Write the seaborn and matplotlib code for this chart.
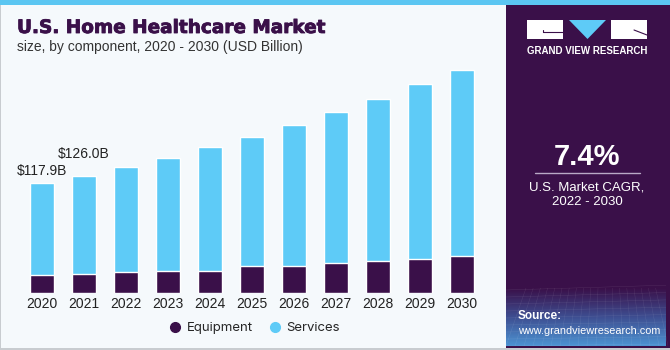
import numpy as np
import pandas as pd
import matplotlib.pyplot as plt
import seaborn as sns
from matplotlib.patches import Rectangle, Polygon
from matplotlib.lines import Line2D
from matplotlib.colors import LinearSegmentedColormap
import matplotlib.patheffects as pe

years = ['2020', '2021', '2022', '2023', '2024', '2025', '2026', '2027', '2028', '2029', '2030']
total = [117.9, 126.0, 135.5, 145.2, 156.7, 167.4, 180.3, 194.2, 208.2, 224.9, 239.6]
equipment = [19.6, 20.4, 22.5, 23.9, 23.6, 29.3, 29.3, 32.8, 34.3, 36.5, 40.3]
bar_labels = {'2020': '$117.9B', '2021': '$126.0B'}
label_offsets = {'2020': 4, '2021': 11}

df = pd.DataFrame({'year': years, 'total': total, 'equipment': equipment})
df['services'] = df['total'] - df['equipment']

purple = '#3A1049'
blue = '#5ECBF7'
bg = '#F5F9FC'

sns.set_style('white')
plt.rcParams['font.family'] = ['Liberation Sans', 'DejaVu Sans']

fig = plt.figure(figsize=(6.7, 3.5), dpi=100)
fig.patch.set_facecolor(bg)

# pixel overlay for frame, panel and logo
ov = fig.add_axes([0, 0, 1, 1], zorder=-1)
ov.add_patch(Rectangle((0, 0), 670, 4.5, color='#5BC6F2', lw=0))
ov.add_patch(Rectangle((0, 4.5), 1.2, 346, color='#C8CCD0', lw=0))
ov.add_patch(Rectangle((0, 347.5), 670, 2.5, color='#C8CCD0', lw=0))
ov.add_patch(Rectangle((506, 4.5), 164, 343, color=purple, lw=0))

# source gradient
grad = np.linspace(0, 1, 100).reshape(-1, 1)
cm = LinearSegmentedColormap.from_list('src', [purple, '#3E4E91', '#4C93D2'])
ov.imshow(grad, extent=(506, 666, 346, 288), cmap=cm, aspect='auto', zorder=1)
for k in range(0, 170, 9):
    ov.plot([506 + k, 506 + k * 0.8 + 20], [346, 288], color='white', lw=0.3, alpha=0.12, zorder=2)
for k in range(0, 60, 7):
    ov.plot([506, 666], [346 - k, 344 - k * 1.05], color='white', lw=0.3, alpha=0.12, zorder=2)
ov.set_xlim(0, 670)
ov.set_ylim(350, 0)
ov.axis('off')

# logo
ov.add_patch(Rectangle((527, 20), 36, 19, color='white', lw=0, zorder=3))
ov.plot([543, 563], [32, 32], color=purple, lw=0.8, zorder=4)
ov.plot([543, 543], [30, 32], color=purple, lw=0.8, zorder=4)
ov.add_patch(Polygon([(569, 20), (606, 20), (587.5, 39)], color=blue, lw=0, zorder=3))
ov.add_patch(Rectangle((611, 20), 36, 19, color='white', lw=0, zorder=3))
ov.plot([634, 647], [30, 35], color=purple, lw=0.8, zorder=4)
ov.text(587, 51, 'GRAND VIEW RESEARCH', color='white', fontsize=7, fontweight='bold',
        ha='center', va='center', zorder=5)

ov.text(587, 157, '7.4%', color='white', fontsize=21, fontweight='bold', ha='center', va='center')
ov.plot([535, 640], [173, 173], color='#B9A9C6', lw=1)
ov.text(587, 187, 'U.S. Market CAGR,', color='white', fontsize=9.5, ha='center', va='center')
ov.text(587, 202, '2022 - 2030', color='white', fontsize=9.5, ha='center', va='center')
ov.text(518, 316, 'Source:', color='white', fontsize=8.5, fontweight='bold', ha='left', va='center', zorder=5)
ov.text(518, 331, 'www.grandviewresearch.com', color='white', fontsize=7.8, ha='left', va='center', zorder=5)

ov.text(17, 28, 'U.S. Home Healthcare Market', color=purple, fontsize=13.3, fontweight='bold',
        ha='left', va='center', family=['DejaVu Sans'],
        path_effects=[pe.withStroke(linewidth=0.6, foreground=purple)])
ov.text(17, 47, 'size, by component, 2020 - 2030 (USD Billion)', color='#333333', fontsize=10,
        ha='left', va='center')

# chart
ax = fig.add_axes([21 / 670, 1 - 293.3 / 350, 462 / 670, 233.3 / 350])
ax.set_facecolor('none')
sns.barplot(data=df, x='year', y='total', color=blue, width=0.57, saturation=1, ax=ax)
sns.barplot(data=df, x='year', y='equipment', color=purple, width=0.57, saturation=1, ax=ax)
ax.set_xlim(-0.5, len(years) - 0.5)
ax.set_ylim(0, 250.3)
ax.set_xlabel('')
ax.set_ylabel('')
ax.set_yticks([])
ax.tick_params(axis='x', length=0, pad=3, labelsize=10, labelcolor='#222222')
sns.despine(ax=ax, left=True, bottom=True)

for i, yr in enumerate(years):
    if yr in bar_labels:
        ax.annotate(bar_labels[yr], (i, total[i]), textcoords='offset points',
                    xytext=(0, label_offsets[yr]), ha='center', va='bottom', fontsize=10,
                    color='#222222')

handles = [Line2D([], [], marker='o', ls='', color=purple, markersize=7),
           Line2D([], [], marker='o', ls='', color=blue, markersize=7)]
fig.legend(handles, ['Equipment', 'Services'], loc='center', bbox_to_anchor=(255 / 670, 1 - 328 / 350),
           ncol=2, frameon=False, handlelength=0.8, handletextpad=0.5, columnspacing=1.2,
           prop={'family': ['Inter', 'DejaVu Sans'], 'size': 9.5})

fig.savefig('out.png', dpi=100, facecolor=bg)
